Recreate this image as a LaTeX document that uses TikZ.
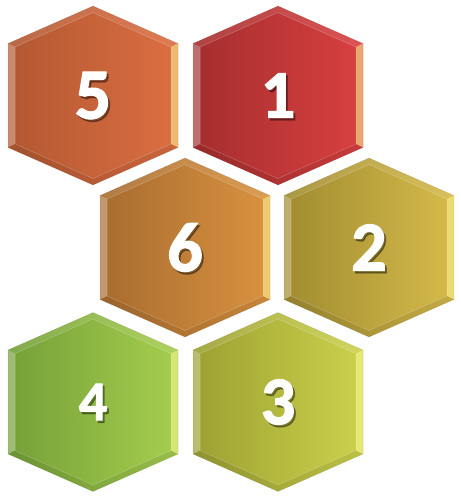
\documentclass[tikz,border=0pt]{standalone}
\usepackage{fontspec}
\setmainfont{Carlito}
\newfontfamily\numfont{Carlito}[UprightFont=*-Bold, FakeBold=1.8]
\definecolor{fivel}{HTML}{B25832}
\definecolor{fiver}{HTML}{DC6E41}
\definecolor{onel}{HTML}{A52E2E}
\definecolor{oner}{HTML}{D94040}
\definecolor{sixl}{HTML}{A86C30}
\definecolor{sixr}{HTML}{D9923F}
\definecolor{twol}{HTML}{A08C30}
\definecolor{twor}{HTML}{D6BA4A}
\definecolor{fourl}{HTML}{74A038}
\definecolor{fourr}{HTML}{A6CE4E}
\definecolor{threel}{HTML}{9CA032}
\definecolor{threer}{HTML}{CCD24C}
\begin{document}
\begin{tikzpicture}[
  x=1pt, y=-1pt,
  num/.style={text=white, inner sep=0pt},
  numshadow/.style={text=black, opacity=0.35, inner sep=0pt},
  facet/.style={draw=none}
]
\useasboundingbox (0,0) rectangle (460,497);

\foreach \cx/\cy/\n/\lc/\rc/\fs in {
  93/95.5/5/fivel/fiver/72,
  278/95.5/1/onel/oner/68,
  185/247.5/6/sixl/sixr/70,
  369/247.5/2/twol/twor/70,
  93/402/4/fourl/fourr/56,
  278/402/3/threel/threer/68}{
  \begin{scope}[shift={(\cx,\cy)}]
    % outer and inner corners
    \coordinate (o1) at (0,-89.5);
    \coordinate (o2) at (85,-52);
    \coordinate (o3) at (85,52);
    \coordinate (o4) at (0,89.5);
    \coordinate (o5) at (-85,52);
    \coordinate (o6) at (-85,-52);
    \coordinate (i1) at (0,-83);
    \coordinate (i2) at (78,-48.5);
    \coordinate (i3) at (78,48.5);
    \coordinate (i4) at (0,83);
    \coordinate (i5) at (-78,48.5);
    \coordinate (i6) at (-78,-48.5);
    \shade[left color=\lc, right color=\rc] (o1) -- (o2) -- (o3) -- (o4) -- (o5) -- (o6) -- cycle;
    % bevel
    \fill[facet, white, opacity=0.10] (o6) -- (o1) -- (o2) -- (i2) -- (i1) -- (i6) -- cycle;
    \fill[facet, yellow!40!white, opacity=0.55] (o2) -- (o3) -- (i3) -- (i2) -- cycle;
    \fill[facet, white, opacity=0.30] (o5) -- (o6) -- (i6) -- (i5) -- cycle;
    \fill[facet, black, opacity=0.08] (o3) -- (o4) -- (o5) -- (i5) -- (i4) -- (i3) -- cycle;
    \draw[white, opacity=0.25, line width=0.5] (i1) -- (i2) -- (i3) -- (i4) -- (i5) -- (i6) -- cycle;
    \draw[black, opacity=0.08, line width=0.6] (o1) -- (o2) -- (o3) -- (o4) -- (o5) -- (o6) -- cycle;
  \end{scope}
  \node[numshadow, font=\numfont\fontsize{\fs}{\fs}\selectfont] (s\n) at (\cx+2,\cy+2.5) {\n};
  \node[num, font=\numfont\fontsize{\fs}{\fs}\selectfont] (n\n) at (\cx,\cy) {\n};
}
\end{tikzpicture}
\end{document}
